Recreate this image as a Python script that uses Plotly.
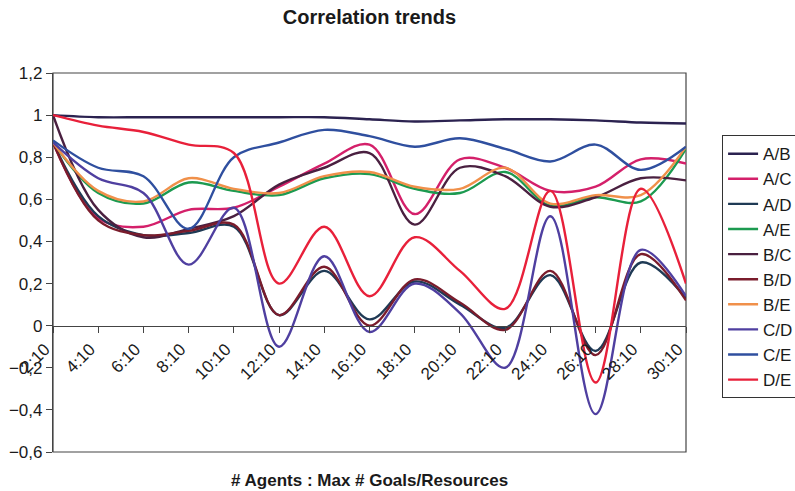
import plotly.graph_objects as go

categories = ["2:10", "4:10", "6:10", "8:10", "10:10", "12:10", "14:10", "16:10",
              "18:10", "20:10", "22:10", "24:10", "26:10", "28:10", "30:10"]

series_names = ["A/B", "A/C", "A/D", "A/E", "B/C", "B/D", "B/E", "C/D", "C/E", "D/E"]

ab = [1.00, 0.99, 0.99, 0.99, 0.99, 0.99, 0.99, 0.98, 0.97, 0.975, 0.98, 0.98, 0.975, 0.965, 0.96]
ac = [0.87, 0.51, 0.47, 0.55, 0.56, 0.66, 0.77, 0.86, 0.53, 0.79, 0.75, 0.64, 0.66, 0.79, 0.77]
ad = [0.87, 0.52, 0.43, 0.44, 0.47, 0.05, 0.26, 0.03, 0.21, 0.10, -0.01, 0.24, -0.12, 0.30, 0.13]
ae = [0.87, 0.63, 0.58, 0.68, 0.64, 0.62, 0.70, 0.72, 0.65, 0.63, 0.73, 0.57, 0.61, 0.59, 0.84]
bc = [1.00, 0.55, 0.42, 0.46, 0.52, 0.67, 0.75, 0.82, 0.48, 0.75, 0.71, 0.565, 0.61, 0.70, 0.69]
bd = [0.87, 0.50, 0.43, 0.45, 0.48, 0.05, 0.28, 0.00, 0.22, 0.11, -0.02, 0.26, -0.14, 0.34, 0.12]
be = [0.87, 0.64, 0.59, 0.70, 0.65, 0.63, 0.71, 0.73, 0.66, 0.65, 0.75, 0.58, 0.62, 0.62, 0.85]
cd = [0.87, 0.70, 0.63, 0.29, 0.56, -0.10, 0.33, -0.03, 0.20, 0.06, -0.20, 0.52, -0.42, 0.36, 0.14]
ce = [0.88, 0.75, 0.71, 0.46, 0.80, 0.87, 0.93, 0.90, 0.85, 0.89, 0.84, 0.78, 0.86, 0.74, 0.85]
de = [1.00, 0.95, 0.92, 0.86, 0.82, 0.20, 0.47, 0.14, 0.42, 0.26, 0.08, 0.64, -0.27, 0.65, 0.20]

series_values = [ab, ac, ad, ae, bc, bd, be, cd, ce, de]
colors = ["#2b2250", "#d4206a", "#1f3a55", "#1c9a50", "#4a2040",
          "#7a1c2c", "#f0904a", "#4f3fa0", "#2f4f9f", "#e8203a"]

y_ticks = [-0.6, -0.4, -0.2, 0, 0.2, 0.4, 0.6, 0.8, 1, 1.2]

FONT = "Arial, Liberation Sans, sans-serif"

fig = go.Figure()
for name, vals, col in zip(series_names, series_values, colors):
    fig.add_trace(go.Scatter(
        x=categories, y=vals, name=name, mode="lines",
        line=dict(color=col, width=2.4, shape="spline", smoothing=1.0),
        legendgroup=name,
    ))

fig.update_layout(
    width=795, height=491,
    margin=dict(l=53, r=109, t=73, b=39, autoexpand=False),
    paper_bgcolor="white", plot_bgcolor="white",
    separators=",.",
    font=dict(family=FONT, color="#1a1a1a", size=17),
    title=dict(text="<b>Correlation trends</b>", x=0.5, xref="paper", y=1 - 17 / 491,
               yref="container", yanchor="middle", xanchor="center",
               font=dict(size=20, family=FONT, color="#1a1a1a")),
    showlegend=True,
    legend=dict(x=1.057, xanchor="left", y=0.836, yanchor="top",
                bordercolor="#333", borderwidth=1, bgcolor="rgba(255,255,255,0)",
                font=dict(size=17, family=FONT, color="#1a1a1a"),
                tracegroupgap=0, itemwidth=30),
    xaxis=dict(type="category", range=[0, len(categories) - 1],
               anchor="free", position=0.6 / 1.8,
               showline=True, linecolor="#444", linewidth=1.2,
               ticks="outside", ticklen=6, tickcolor="#444",
               tickangle=-45, tickfont=dict(size=17, family=FONT, color="#1a1a1a"),
               ticklabelshift=-8,
               showgrid=False, zeroline=False),
    yaxis=dict(range=[-0.6, 1.2], tickvals=y_ticks, tickformat=".1~f",
               showline=True, linecolor="#444", linewidth=1.2,
               ticks="outside", ticklen=6, tickcolor="#444",
               tickfont=dict(size=17, family=FONT, color="#1a1a1a"),
               showgrid=False, zeroline=False),
    shapes=[dict(type="rect", xref="paper", yref="paper", x0=0, x1=1, y0=0, y1=1,
                 line=dict(color="#444", width=1.2), fillcolor="rgba(0,0,0,0)", layer="below")],
    annotations=[dict(text="<b># Agents : Max # Goals/Resources</b>", xref="paper", yref="paper",
                      x=0.5, y=-28 / 379, xanchor="center", yanchor="middle", showarrow=False,
                      font=dict(size=17, family=FONT, color="#1a1a1a"))],
)

fig.write_html("out.html", config={"displayModeBar": False},
               post_script="document.body.style.margin='0';document.body.style.overflow='hidden';")
